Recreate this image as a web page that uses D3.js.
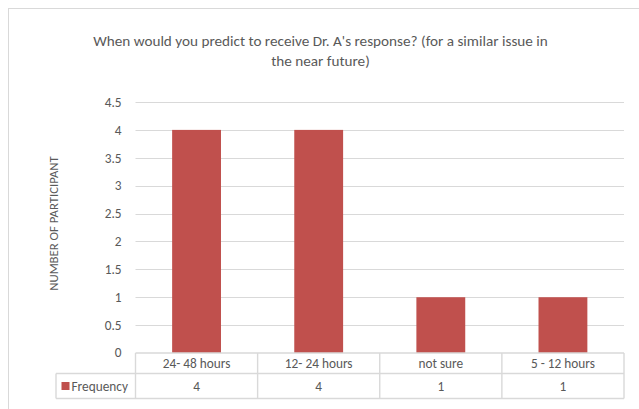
<!DOCTYPE html>
<html><head><meta charset="utf-8">
<script src="https://cdn.jsdelivr.net/npm/d3@7/dist/d3.min.js"></script>
<style>body{margin:0;background:#fff;} svg{display:block;} text{font-family:Carlito,"Liberation Sans",sans-serif;fill:#595959;}</style>
</head><body>
<script>
const categories = ["24- 48 hours", "12- 24 hours", "not sure", "5 - 12 hours"];
const frequency = [4, 4, 1, 1];
const seriesName = "Frequency";
const yTicks = [0, 0.5, 1, 1.5, 2, 2.5, 3, 3.5, 4, 4.5];
const titleLines = ["When would you predict to receive Dr. A's response? (for a similar issue in", "the near future)"];
const yTitle = "NUMBER OF PARTICIPANT";

(function () {
const W = 639, H = 409;
const svg = d3.select("body").append("svg").attr("width", W).attr("height", H);
svg.append("rect").attr("x", 8.5).attr("y", 8.5).attr("width", 700).attr("height", 500)
  .attr("fill", "#fff").attr("stroke", "#d9d9d9");

const pLeft = 135.5, pRight = 624, pTop = 102, pBottom = 353;
const x = d3.scaleBand().domain(categories).range([pLeft, pRight]).paddingInner(0).paddingOuter(0);
const y = d3.scaleLinear().domain([0, 4.5]).range([pBottom, pTop]);

// title
svg.append("text").attr("x", 320.5).attr("y", 46).attr("text-anchor", "middle").style("font-size", "15.2px")
  .selectAll("tspan").data(titleLines).join("tspan").attr("x", 320.5).attr("dy", (d, i) => i ? 19.5 : 0).text(d => d);

// gridlines
svg.append("g").selectAll("line").data(yTicks.filter(t => t > 0)).join("line")
  .attr("x1", pLeft).attr("x2", pRight).attr("y1", d => Math.round(y(d)) + 0.5).attr("y2", d => Math.round(y(d)) + 0.5)
  .attr("stroke", "#d9d9d9").attr("stroke-width", 1);

// y axis labels
const yAxis = d3.axisLeft(y).tickValues(yTicks).tickSize(0).tickPadding(14).tickFormat(d3.format("~g"));
const ya = svg.append("g").attr("transform", `translate(${pLeft},0)`).call(yAxis);
ya.select(".domain").remove();
ya.selectAll("text").style("font-size", "13.3px").attr("fill", "#595959").style("font-family", 'Carlito,"Liberation Sans",sans-serif');
ya.selectAll(".tick").filter(d => d === 0).select("text").attr("dy", "0.25em");

// axis title
svg.append("text").attr("transform", `translate(58,${(pTop + pBottom) / 2 - 4}) rotate(-90)`)
  .attr("text-anchor", "middle").style("font-size", "12.8px").text(yTitle);

// bars
const bw = x.bandwidth() * 0.4;
svg.selectAll("rect.bar").data(frequency).join("rect").attr("class", "bar")
  .attr("x", (d, i) => x(categories[i]) + (x.bandwidth() - bw) / 2)
  .attr("width", bw)
  .attr("y", d => y(d)).attr("height", d => y(0) - y(d))
  .attr("fill", "#c0504d");

// data table
const row1 = pBottom + 20.5, row2 = pBottom + 45.5;
const tableLeft = 56;
const tg = svg.append("g").attr("stroke", "#d9d9d9").attr("stroke-width", 1.4).attr("fill", "none");
tg.append("line").attr("x1", pLeft).attr("x2", pRight).attr("y1", pBottom).attr("y2", pBottom);
tg.append("line").attr("x1", tableLeft).attr("x2", pRight).attr("y1", row1).attr("y2", row1);
tg.append("line").attr("x1", tableLeft).attr("x2", pRight).attr("y1", row2).attr("y2", row2);
const bounds = categories.map(c => x(c)).concat([pRight]);
tg.selectAll("line.v").data(bounds).join("line").attr("class", "v")
  .attr("x1", d => d).attr("x2", d => d).attr("y1", pBottom).attr("y2", row2);
tg.append("line").attr("x1", tableLeft).attr("x2", tableLeft).attr("y1", row1).attr("y2", row2);

svg.selectAll("text.cat").data(categories).join("text").attr("class", "cat")
  .attr("x", d => x(d) + x.bandwidth() / 2).attr("y", (pBottom + row1) / 2 + 4.5)
  .attr("text-anchor", "middle").style("font-size", "13.3px").text(d => d);
svg.selectAll("text.val").data(frequency).join("text").attr("class", "val")
  .attr("x", (d, i) => x(categories[i]) + x.bandwidth() / 2).attr("y", (row1 + row2) / 2 + 4.5)
  .attr("text-anchor", "middle").style("font-size", "13.3px").text(d => d);

svg.append("rect").attr("x", 61.5).attr("y", (row1 + row2) / 2 - 4).attr("width", 8).attr("height", 8).attr("fill", "#c0504d");
svg.append("text").attr("x", 71.5).attr("y", (row1 + row2) / 2 + 4.5).style("font-size", "13.3px").text(seriesName);
})();
</script>
</body></html>
